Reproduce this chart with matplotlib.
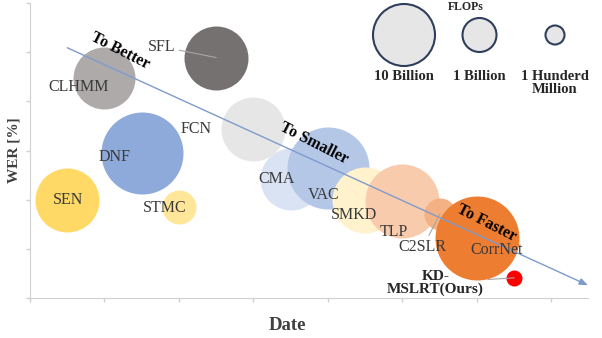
import matplotlib
matplotlib.use("Agg")
import matplotlib.pyplot as plt
import numpy as np

plt.rcParams['font.family'] = ['Liberation Serif', 'DejaVu Serif']

# datos de los modelos (fecha relativa, WER relativo, radio de burbuja ~ FLOPs)
metodos = ['SEN', 'CLHMM', 'DNF', 'STMC', 'SFL', 'FCN', 'CMA', 'VAC',
           'SMKD', 'TLP', 'C2SLR', 'CorrNet', 'KD-\nMSLRT(Ours)']
fechas = [0.5, 1.0, 1.5, 2.0, 2.5, 3.0, 3.5, 4.0, 4.5, 5.0, 5.5, 6.0, 6.5]
wer = [2.0, 4.48, 2.94, 1.85, 4.89, 3.43, 2.43, 2.64, 1.99, 1.97, 1.70, 1.22, 0.41]
radios = [32, 31, 41, 17, 32, 32, 31, 41, 33, 37, 16, 42, 8]
colores = ['#ffd966', '#aeaaaa', '#8eaadb', '#ffe699', '#767171', '#e7e6e6',
           '#dae3f3', '#b4c7e7', '#fff2cc', '#f8cbad', '#f4b183', '#ed7d31', '#ff0000']

# desplazamiento de cada etiqueta (px: derecha, abajo)
desp = [(1, 0), (-26, 9), (-27, 4), (-14, 1), (-55, -11), (-57, 0), (-14, 0),
        (-4, 27), (-11, 15), (-9, 31), (-17, 33), (20, 12), (-79, 5)]
con_linea = ['SFL', 'C2SLR', 'KD-\nMSLRT(Ours)']

# flecha de tendencia
flecha_ini = (0.5, 5.09)
flecha_fin = (7.49, 0.26)
textos_flecha = ['To Better', 'To Smaller', 'To Faster']
pos_textos = [(1.21, 5.02), (3.81, 3.15), (6.13, 1.52)]

# leyenda de FLOPs
leyenda_labels = ['10 Billion', '1 Billion', '1 Hunderd\nMillion']
leyenda_radios = [31, 17, 9.5]

fig = plt.figure(figsize=(6.02, 3.38), dpi=100)
ax = fig.add_axes([30/602, 40/338, 558/602, 295/338])

px = 0.72  # pt por pixel
s = [(2*r*px)**2 for r in radios]
for i in range(len(metodos)):
    ax.scatter(fechas[i], wer[i], s=s[i], c=colores[i], linewidths=0, zorder=2+i*0.01)

for i, m in enumerate(metodos):
    dx, dy = desp[i]
    bold = m.startswith('KD')
    props = None
    if m in con_linea:
        props = dict(arrowstyle='-', color='#a6a6a6', lw=0.8, shrinkA=1, shrinkB=0)
    ax.annotate(m, (fechas[i], wer[i]), xytext=(dx*px, -dy*px), textcoords='offset points',
                ha='center', va='center', fontsize=11.5 if not bold else 11,
                fontweight='bold' if bold else 'normal',
                color='#262626' if bold else '#3a3a3a', linespacing=0.95,
                arrowprops=props, zorder=5)

ax.annotate('', xy=flecha_fin, xytext=flecha_ini,
            arrowprops=dict(arrowstyle='-|>,head_length=0.5,head_width=0.2', color='#7f9bcb',
                            lw=1.0, shrinkA=0, shrinkB=0), zorder=4)
for t, (x, y) in zip(textos_flecha, pos_textos):
    ax.text(x, y, t, rotation=-27, ha='center', va='center', fontsize=11.5,
            fontweight='bold', color='black', zorder=6, rotation_mode='anchor')

ax.set_xlim(0, 7.49)
ax.set_ylim(0, 6)
ax.set_xticks(range(8))
ax.set_yticks(range(7))
ax.set_xticklabels([])
ax.set_yticklabels([])
ax.tick_params(direction='out', length=3, color='#d0d0d0', width=1)
for lado in ['top', 'right']:
    ax.spines[lado].set_visible(False)
for lado in ['left', 'bottom']:
    ax.spines[lado].set_color('#d0d0d0')
ax.set_xlabel('Date', fontsize=13.5, fontweight='bold', color='#404040')
ax.xaxis.set_label_coords(257/558, -19/295)
ax.set_ylabel('WER [%]', fontsize=11, fontweight='bold', color='#404040')
ax.yaxis.set_label_coords(-10/558, 0.5)

# leyenda
lax = fig.add_axes([366.25/602, 1-100/338, 226.5/602, 100/338])
lax.set_xlim(-0.5, 2.5)
lax.set_ylim(0, 1)
lax.axis('off')
ls = [(2*r*px)**2 for r in leyenda_radios]
lax.scatter(range(3), [0.65]*3, s=ls, c='#e7e6e6', edgecolors='#2f3e5c', linewidths=1.5)
for i, t in enumerate(leyenda_labels):
    lax.text(i, 0.30, t, ha='center', va='top', fontsize=10.5, fontweight='bold',
             color='#262626', linespacing=1.0)
lax.text(0.82, 0.93, 'FLOPs', ha='center', va='center', fontsize=8.5,
         fontweight='bold', color='#262626')

fig.savefig('out.png', dpi=100)
